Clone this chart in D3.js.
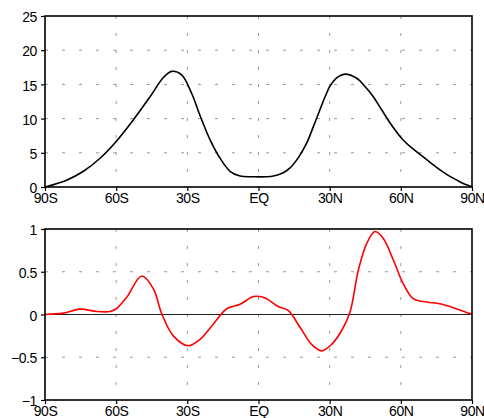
<!DOCTYPE html>
<html><head><meta charset="utf-8">
<script src="https://cdn.jsdelivr.net/npm/d3@7"></script>
<style>
body{margin:0;background:#fff;}
svg{display:block;}
text{font-family:"Liberation Sans",Arial,sans-serif;font-size:14px;fill:#000;letter-spacing:-0.4px;}
</style></head>
<body>
<svg id="c" width="484" height="418"></svg>
<script>
// X axis categories (latitude) and labels
const xTicks = [-90, -60, -30, 0, 30, 60, 90];
const xTickLabels = ["90S", "60S", "30S", "EQ", "30N", "60N", "90N"];

// Top panel
const topTicks = [0, 5, 10, 15, 20, 25];
const topLat = [-90, -80.9, -73.8, -66.8, -59.9, -52.8, -45.7, -40.1, -36.6, -32.4, -28.2, -24.7, -20.4, -16.2, -12.0, -7.8, -2, 3, 6.3, 10, 13.3, 16.8, 20.3, 23.2, 25.9, 28.2, 30.2, 33.5, 36.5, 41.4, 44.9, 48.4, 51.9, 55.4, 60.4, 65, 69.5, 73, 76.5, 80, 83.6, 87, 90];
const topVal = [0, 1.0, 2.3, 4.2, 6.7, 9.8, 13.2, 16.0, 16.9, 16.4, 13.7, 10.5, 6.9, 4.2, 2.3, 1.6, 1.5, 1.5, 1.6, 2.0, 2.8, 4.3, 6.4, 8.9, 11.3, 13.3, 14.8, 16.1, 16.5, 15.9, 14.7, 13.2, 11.3, 9.4, 7.1, 5.6, 4.4, 3.4, 2.5, 1.7, 1.0, 0.4, 0.05];

// Bottom panel
const botTicks = [-1, -0.5, 0, 0.5, 1];
const botTickLabels = ["\u22121", "\u22120.5", "0", "0.5", "1"];
const botLat = [-90, -82.3, -75.2, -68.2, -62.6, -59.9, -55.6, -49.2, -44.3, -40.8, -35.9, -29.6, -24.6, -19.0, -13.4, -7.8, -2.2, 0.6, 3.4, 8.3, 12.5, 17.5, 22.4, 26.6, 30.8, 35.0, 38.6, 42.1, 45.6, 49.1, 52.6, 56.8, 61.0, 65.2, 70.9, 76.5, 82.1, 89.1, 90];
const botVal = [0, 0.016, 0.063, 0.035, 0.035, 0.067, 0.2, 0.45, 0.30, 0.01, -0.25, -0.366, -0.29, -0.11, 0.067, 0.12, 0.21, 0.21, 0.185, 0.094, 0.047, -0.15, -0.35, -0.425, -0.35, -0.19, 0.03, 0.52, 0.83, 0.97, 0.89, 0.64, 0.36, 0.185, 0.146, 0.126, 0.079, 0.01, 0.005];

const svg = d3.select("#c");
const x = d3.scaleLinear().domain([-90, 90]).range([45, 472]);

function panel(yDomain, yRange, yTicks, yLabels, lat, val, color, zeroLine) {
  const y = d3.scaleLinear().domain(yDomain).range(yRange);
  const g = svg.append("g");
  // grid
  const gx = xTicks.slice(1, -1), gy = yTicks.slice(1, -1).filter(v => !(zeroLine && v === 0));
  g.selectAll(".vg").data(gx).join("line")
    .attr("x1", d => x(d)).attr("x2", d => x(d))
    .attr("y1", yRange[1]).attr("y2", yRange[0])
    .attr("stroke", "#999").attr("stroke-width", 1).attr("stroke-dasharray", "3,14");
  g.selectAll(".hg").data(gy).join("line")
    .attr("y1", d => y(d)).attr("y2", d => y(d))
    .attr("x1", x.range()[0]).attr("x2", x.range()[1])
    .attr("stroke", "#999").attr("stroke-width", 1).attr("stroke-dasharray", "3,14");
  if (zeroLine) {
    g.append("line").attr("x1", x.range()[0]).attr("x2", x.range()[1])
      .attr("y1", y(0)).attr("y2", y(0)).attr("stroke", "#222").attr("stroke-width", 1);
  }
  // line
  const line = d3.line().x((d, i) => x(lat[i])).y(d => y(d)).curve(d3.curveCatmullRom.alpha(0.5));
  g.append("path").datum(val).attr("d", line).attr("fill", "none")
    .attr("stroke", color).attr("stroke-width", 1.6);
  // frame
  g.append("rect").attr("x", x.range()[0]).attr("y", yRange[1])
    .attr("width", x.range()[1] - x.range()[0]).attr("height", yRange[0] - yRange[1])
    .attr("fill", "none").attr("stroke", "#000").attr("stroke-width", 1.6);
  // axes
  const xa = d3.axisBottom(x).tickValues(xTicks).tickFormat((d, i) => xTickLabels[i]).tickSize(4).tickPadding(2);
  const xg = g.append("g").attr("transform", `translate(0,${yRange[0]})`).call(xa);
  const ya = d3.axisLeft(y).tickValues(yTicks).tickFormat((d, i) => yLabels[i]).tickSize(4).tickPadding(4);
  const yg = g.append("g").attr("transform", `translate(${x.range()[0]},0)`).call(ya);
  [xg, yg].forEach(a => {
    a.select(".domain").remove();
    a.selectAll(".tick line").attr("stroke", "#000").attr("stroke-width", 1.2);
    a.selectAll("text").attr("font-family", null).attr("font-size", null).attr("fill", "#000");
  });
  yg.selectAll("text").attr("dy", "0.4em");
  xg.selectAll("text").attr("dy", "0.68em");
}

panel([0, 25], [187, 16], topTicks, topTicks.map(String), topLat, topVal, "#000", false);
panel([-1, 1], [400, 229], botTicks, botTickLabels, botLat, botVal, "#ff0000", true);
</script>
</body></html>
